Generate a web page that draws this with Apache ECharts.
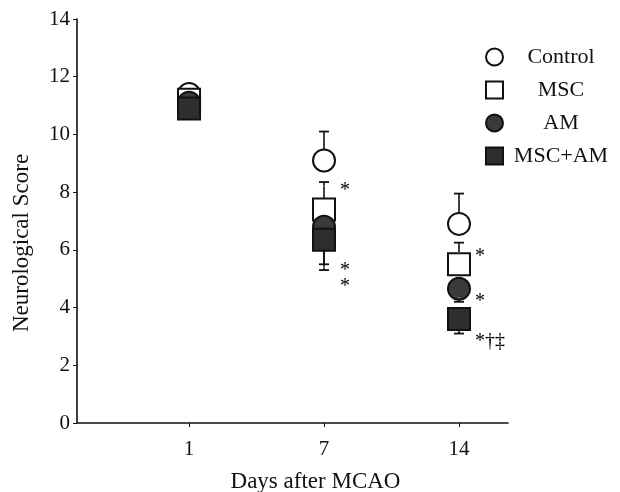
<!DOCTYPE html>
<html><head><meta charset="utf-8">
<script src="https://cdn.jsdelivr.net/npm/echarts@6/dist/echarts.min.js"></script>
<style>html,body{margin:0;padding:0;background:#fff}#c{width:620px;height:492px}</style>
</head><body><div id="c"></div>
<script>
const categories = ['1', '7', '14'];
const seriesNames = ['Control', 'MSC', 'AM', 'MSC+AM'];
const control = [11.4, 9.1, 6.9];
const controlErr = [0.1, 1.0, 1.05];
const msc = [11.2, 7.4, 5.5];
const mscErr = [0, 0.95, 0.75];
const am = [11.1, 6.8, 4.65];
const amErr = [0, -1.3, -0.45];
const mscam = [10.9, 6.35, 3.6];
const mscamErr = [0, -1.05, -0.5];
const yTicks = [0, 2, 4, 6, 8, 10, 12, 14];
const sigX = [1, 1, 1, 2, 2, 2];
const sigY = [8.2, 5.4, 4.85, 5.9, 4.35, 2.95];
const sigText = ['*', '*', '*', '*', '*', '*\u2020\u2021'];

const FONT = '"Liberation Serif", "DejaVu Serif", serif';
const chart = echarts.init(document.getElementById('c'));

function pts(vals) { return vals.map((v, i) => [i, v]); }
function errData(vals, errs) { return vals.map((v, i) => [i, v, v + errs[i]]); }

function errSeries(vals, errs) {
  return {
    type: 'custom', silent: true, z: 1,
    data: errData(vals, errs),
    renderItem: function (params, api) {
      const a = api.coord([api.value(0), api.value(1)]);
      const b = api.coord([api.value(0), api.value(2)]);
      const w = 5;
      return { type: 'group', children: [
        { type: 'line', shape: { x1: a[0], y1: a[1], x2: b[0], y2: b[1] }, style: { stroke: '#111', lineWidth: 1.6 } },
        { type: 'line', shape: { x1: b[0] - w, y1: b[1], x2: b[0] + w, y2: b[1] }, style: { stroke: '#111', lineWidth: 1.8 } }
      ]};
    }
  };
}

const markerStyles = [
  { symbol: 'circle', color: '#fff', border: '#111' },
  { symbol: 'rect', color: '#fff', border: '#111' },
  { symbol: 'circle', color: '#3a3a3a', border: '#111' },
  { symbol: 'rect', color: '#2e2e2e', border: '#111' }
];
const allVals = [control, msc, am, mscam];
const allErrs = [controlErr, mscErr, amErr, mscamErr];

const series = [];
allVals.forEach((v, k) => series.push(errSeries(v, allErrs[k])));
allVals.forEach((v, k) => {
  const s = markerStyles[k];
  series.push({
    name: seriesNames[k], type: 'scatter', z: 3 + k,
    symbol: s.symbol, symbolSize: 22,
    itemStyle: { color: s.color, borderColor: s.border, borderWidth: 2, opacity: 1 },
    data: pts(v)
  });
});
series.push({
  type: 'scatter', silent: true, z: 10, symbolSize: 1,
  itemStyle: { color: '#fff', opacity: 1 },
  data: sigX.map((x, i) => ({ value: [x, sigY[i]], label: { formatter: sigText[i] } })),
  label: { show: true, position: 'inside', align: 'left', offset: [16, 4],
    color: '#000', fontFamily: FONT, fontSize: 20, opacity: 1 }
});

chart.setOption({
  backgroundColor: '#fff',
  animation: false,
  grid: { left: 77, right: 112, top: 19, bottom: 69, outerBoundsMode: 'none', containLabel: false },
  legend: {
    orient: 'vertical', left: 480, top: 41,
    itemWidth: 17, itemHeight: 17, itemGap: 11,
    data: seriesNames,
    formatter: n => '{t|' + n + '}',
    textStyle: { fontFamily: FONT, fontSize: 22, color: '#111',
      rich: { t: { width: 106, align: 'center', fontFamily: FONT, fontSize: 22, color: '#111' } } }
  },
  xAxis: {
    type: 'value', min: -0.83, max: 2.363,
    name: 'Days after MCAO', nameLocation: 'middle', nameGap: 47,
    nameTextStyle: { fontFamily: FONT, fontSize: 23, color: '#111', padding: [0, 0, 0, 46] },
    axisLine: { onZero: false, lineStyle: { color: '#111', width: 1.6 } },
    axisTick: { show: true, length: 4, customValues: [0, 1, 2], lineStyle: { color: '#111' } },
    axisLabel: { customValues: [0, 1, 2], margin: 16, fontFamily: FONT, fontSize: 21, color: '#111',
      formatter: v => categories[Math.round(v)] },
    splitLine: { show: false }
  },
  yAxis: {
    type: 'value', min: 0, max: 14, interval: 2,
    name: 'Neurological Score', nameLocation: 'middle', nameGap: 44, nameRotate: 90,
    nameTextStyle: { fontFamily: FONT, fontSize: 23, color: '#111', padding: [0, 44, 0, 0] },
    axisLine: { show: true, onZero: false, lineStyle: { color: '#111', width: 1.6 } },
    axisTick: { show: true, length: 4, lineStyle: { color: '#111' } },
    axisLabel: { margin: 7, fontFamily: FONT, fontSize: 21, color: '#111',
      formatter: v => yTicks.indexOf(v) >= 0 ? String(v) : '' },
    splitLine: { show: false }
  },
  series: series
});
</script></body></html>
